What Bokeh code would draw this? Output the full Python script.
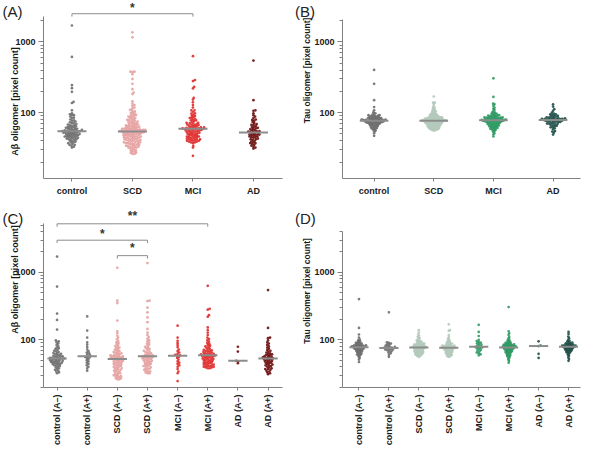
import math
import numpy as np
from bokeh.plotting import figure
from bokeh.models import Range1d, FixedTicker, NumeralTickFormatter, Label
from bokeh.layouts import column, row
from bokeh.core.properties import value
from bokeh.embed import file_html
from bokeh.resources import INLINE

# ---------------- data ----------------
main_cats = ["control", "SCD", "MCI", "AD"]
sub_cats = ["control (A\u2013)", "control (A+)", "SCD (A\u2013)", "SCD (A+)",
            "MCI (A\u2013)", "MCI (A+)", "AD (A\u2013)", "AD (A+)"]

ab_ctrl_neg = [1710, 615, 245, 197, 142, 98, 95, 92, 88, 84, 80, 77, 75, 73, 71, 69, 67, 66, 64, 63,
               62, 61, 60, 59, 58, 57, 57, 56, 55, 55, 54, 54, 53, 53, 52, 52, 51, 51, 50, 50,
               49, 49, 48, 48, 47, 47, 46, 46, 45, 45, 44, 44, 43, 42, 42, 41, 40, 39, 38, 37,
               36, 35, 34, 33, 32]
ab_ctrl_pos = [222, 137, 108, 92, 85, 78, 72, 68, 65, 63, 61, 59, 57, 56, 55, 54, 52, 50, 48, 46,
               44, 42, 40, 38, 35]
ab_scd_neg = [1165, 380, 350, 193, 134, 125, 115, 108, 102, 97, 93, 90, 87, 84, 81, 79, 77, 75, 73, 71,
              69, 68, 66, 65, 64, 63, 62, 61, 60, 59, 58, 58, 57, 57, 56, 56, 55, 55, 54, 54,
              53, 53, 52, 52, 51, 50, 50, 49, 48, 48, 47, 46, 46, 45, 44, 44, 43, 42, 42, 41,
              40, 40, 39, 38, 38, 37, 36, 36, 35, 34, 34, 33, 32, 32, 31, 30, 30, 29, 29, 28,
              28, 27, 27, 26, 26]
ab_scd_pos = [1370, 380, 375, 300, 256, 215, 183, 145, 128, 118, 110, 104, 99, 95, 91, 88, 85, 82, 79, 77,
              75, 73, 71, 69, 67, 66, 65, 63, 62, 61, 60, 59, 58, 58, 57, 57, 56, 55, 55, 54,
              53, 53, 52, 51, 50, 50, 49, 48, 47, 47, 46, 45, 44, 44, 43, 42, 41, 41, 40, 39,
              38, 37, 37, 36, 35, 34, 34, 33, 32, 32]
ab_mci_neg = [162, 108, 97, 90, 84, 78, 72, 68, 65, 62, 60, 59, 58, 56, 54, 51, 48, 46, 44, 42,
              40, 37, 34, 32, 24.5]
ab_mci_pos = [630, 289, 280, 232, 220, 153, 140, 128, 118, 108, 103, 98, 94, 90, 87, 84, 82, 80, 78, 76,
              74, 72, 71, 70, 69, 68, 67, 66, 65, 64, 63, 62, 62, 61, 61, 60, 60, 59, 59, 58,
              58, 57, 57, 56, 55, 55, 54, 53, 53, 52, 51, 51, 50, 50, 49, 48, 48, 47, 46, 46,
              45, 45, 44, 43, 43, 42, 42, 41, 41, 40, 40, 39, 39, 38, 38]
ab_ad_neg = [79, 67, 49, 48, 45]
ab_ad_pos = [545, 150, 108, 106, 98, 92, 88, 84, 80, 77, 74, 71, 69, 67, 65, 63, 62, 61, 60, 59,
             58, 57, 56, 55, 55, 54, 54, 53, 52, 52, 51, 50, 49, 49, 48, 47, 46, 46, 45, 44,
             43, 42, 42, 41, 40, 39, 38, 37, 37, 36, 35, 34, 33, 32, 31]

tau_ctrl_neg = [402, 150, 120, 108, 101, 98, 96, 94, 92, 91, 90, 89, 88, 87, 86, 85, 84, 84, 83, 83,
                82, 82, 81, 81, 80, 80, 80, 79, 79, 79, 78, 78, 78, 77, 77, 76, 76, 75, 75, 74,
                74, 73, 73, 72, 72, 71, 70, 70, 69, 68, 67, 67, 66, 65, 64, 63, 62, 61, 60, 59,
                58, 56, 54, 51, 47]
tau_ctrl_pos = [256, 92, 90, 88, 86, 84, 82, 80, 79, 78, 77, 77, 76, 75, 74, 73, 72, 71, 70, 69,
                67, 65, 63, 60, 56]
tau_scd_neg = [139, 128, 120, 115, 111, 108, 105, 102, 100, 98, 96, 95, 94, 93, 92, 91, 90, 89, 88, 88,
               87, 86, 86, 85, 85, 84, 84, 83, 83, 82, 82, 81, 81, 80, 80, 80, 79, 79, 79, 78,
               78, 78, 77, 77, 77, 76, 76, 76, 75, 75, 74, 74, 73, 73, 72, 72, 71, 71, 70, 70,
               69, 69, 68, 68, 67, 67, 66, 66, 65, 65, 64, 64, 63, 63, 62, 62, 61, 61, 60, 60,
               59, 58, 58, 57, 56]
tau_scd_pos = [169, 139, 136, 118, 110, 105, 101, 98, 96, 94, 92, 90, 89, 88, 87, 86, 85, 84, 83, 83,
               82, 82, 81, 81, 80, 80, 79, 79, 78, 78, 78, 77, 77, 77, 77, 76, 76, 76, 75, 75,
               74, 74, 73, 73, 72, 72, 71, 71, 70, 70, 69, 68, 68, 67, 66, 66, 65, 64, 64, 63,
               62, 62, 61, 60, 60, 59, 58, 57, 57, 56]
tau_mci_neg = [167, 131, 114, 100, 96, 93, 91, 89, 87, 85, 83, 81, 79, 78, 77, 76, 75, 73, 71, 69,
               67, 65, 63, 61, 59]
tau_mci_pos = [306, 134, 125, 118, 110, 105, 101, 98, 96, 94, 92, 91, 90, 89, 88, 87, 86, 86, 85, 85,
               84, 84, 83, 83, 82, 82, 81, 81, 80, 80, 80, 79, 79, 79, 78, 78, 78, 77, 77, 77,
               76, 76, 75, 75, 74, 74, 73, 73, 72, 72, 71, 70, 70, 69, 68, 68, 67, 66, 66, 65,
               64, 64, 63, 62, 61, 60, 59, 58, 57, 56, 55, 53, 51, 49, 46]
tau_ad_neg = [95, 82, 81, 62, 54]
tau_ad_pos = [131, 122, 112, 106, 100, 97, 95, 93, 91, 90, 89, 88, 87, 86, 85, 84, 84, 83, 83, 82,
              82, 81, 81, 80, 80, 79, 79, 79, 78, 78, 77, 77, 76, 76, 75, 75, 74, 73, 73, 72,
              71, 70, 70, 69, 68, 67, 66, 65, 64, 62, 60, 58, 55, 52, 49]

ab_sub = [ab_ctrl_neg, ab_ctrl_pos, ab_scd_neg, ab_scd_pos, ab_mci_neg, ab_mci_pos, ab_ad_neg, ab_ad_pos]
tau_sub = [tau_ctrl_neg, tau_ctrl_pos, tau_scd_neg, tau_scd_pos, tau_mci_neg, tau_mci_pos, tau_ad_neg, tau_ad_pos]
ab_main = [ab_sub[2 * k] + ab_sub[2 * k + 1] for k in range(4)]
tau_main = [tau_sub[2 * k] + tau_sub[2 * k + 1] for k in range(4)]

# significance comparisons: (group i, group j, label)
sig_A = [(0, 2, "*")]
sig_C = [(0, 5, "**"), (0, 3, "*"), (2, 3, "*")]

y_major = [10, 100, 1000, 10000]
y_minor = [20, 30, 40, 50, 60, 70, 80, 90, 200, 300, 400, 500, 600, 700, 800, 900,
           2000, 3000, 4000, 5000, 6000, 7000, 8000, 9000]

# ---------------- style ----------------
FONT = "Liberation Sans"
AX = "#808080"
ab_colors = ["#6e6e6e", "#e6a0a0", "#e02a2a", "#6b0d0d"]
tau_colors = ["#6e6e6e", "#b4cabb", "#2e9a62", "#1f4f47"]


def swarm_offsets(vals, ppd, ppu, cap, d=1.9, step=0.4):
    """Beeswarm placement in pixel space, squeezed to at most +-cap px."""
    y = np.log10(np.asarray(vals, float)) * ppd
    order = np.argsort(y)
    px = np.zeros(len(y))
    pxs, pys = [], []
    for i in order:
        yi = y[i]
        near = [(a, b) for a, b in zip(pxs, pys) if abs(b - yi) < d]
        k = 0
        while True:
            m = (k + 1) // 2
            cand = m * step * (1 if k % 2 else -1)
            if all((cand - a) ** 2 + (yi - b) ** 2 >= d * d for a, b in near):
                break
            k += 1
        px[i] = cand
        pxs.append(cand)
        pys.append(yi)
    mx = np.max(np.abs(px)) if len(px) else 0
    if mx > cap:
        px = px * cap / mx
    return px / ppu


def make_panel(W, H, box, xr, yr, ybounds, groups, colors, cats, rotate, med_half, cap,
               panel_text, panel_pos, ylab_text, ylab_pos, ylab_size, brackets):
    left, right, top, bottom = box
    ppu = (right - left) / (xr[1] - xr[0])
    la, lb = math.log10(yr[0]), math.log10(yr[1])
    ppd = (bottom - top) / (lb - la)
    xs = xr[0] - left / ppu
    xe = xr[1] + (W - right) / ppu
    ys = 10 ** (la - (H - bottom) / ppd)
    ye = 10 ** (lb + top / ppd)

    p = figure(width=W, height=H, y_axis_type="log",
               x_range=Range1d(xs, xe), y_range=Range1d(ys, ye),
               output_backend="svg", toolbar_location=None, title=None,
               min_border=0, min_border_left=0, min_border_right=0,
               min_border_top=0, min_border_bottom=0)
    p.outline_line_color = None
    p.grid.visible = False
    p.background_fill_color = "white"
    p.border_fill_color = "white"

    for i, vals in enumerate(groups):
        off = swarm_offsets(vals, ppd, ppu, cap)
        p.scatter(i + off, vals, size=2.7, marker="circle", fill_color=colors[i],
                  line_color=None, fill_alpha=0.9)
    for i, vals in enumerate(groups):
        med = float(np.median(vals))
        p.segment(i - med_half, med, i + med_half, med, line_color="#8c8c8c", line_width=2)

    for (i, j, txt, ytop, yend, ytxt) in brackets:
        p.line([i, i, j, j], [yend, ytop, ytop, yend], line_color="#8c8c8c", line_width=1)
        p.text(x=[(i + j) / 2], y=[ytxt], text=[txt], text_align="center",
               text_baseline="middle", text_font=value(FONT), text_font_size="12px",
               text_font_style="bold", text_color="#333333")

    ya = p.yaxis[0]
    ya.fixed_location = xr[0]
    ya.ticker = FixedTicker(ticks=[t for t in y_major if ybounds[0] <= t <= ybounds[1]],
                            minor_ticks=[t for t in y_minor if ybounds[0] <= t <= ybounds[1]])
    ya.formatter = NumeralTickFormatter(format="0")
    ya.bounds = ybounds
    ya.axis_line_color = AX
    ya.major_tick_line_color = AX
    ya.minor_tick_line_color = AX
    ya.major_tick_out = 5
    ya.major_tick_in = 0
    ya.minor_tick_out = 3
    ya.minor_tick_in = 0
    ya.major_label_standoff = 3
    ya.major_label_text_font = FONT
    ya.major_label_text_font_style = "bold"
    ya.major_label_text_font_size = "9px"
    ya.major_label_text_color = "#1a1a1a"

    xa = p.xaxis[0]
    xa.fixed_location = yr[0]
    xa.ticker = FixedTicker(ticks=list(range(len(cats))))
    xa.major_label_overrides = {i: c for i, c in enumerate(cats)}
    xa.bounds = xr
    xa.axis_line_color = AX
    xa.major_tick_line_color = AX
    xa.major_tick_out = 3
    xa.major_tick_in = 0
    xa.minor_tick_line_color = None
    xa.major_label_standoff = 4
    xa.major_label_text_font = FONT
    xa.major_label_text_font_style = "bold"
    xa.major_label_text_font_size = "9px"
    xa.major_label_text_color = "#1a1a1a"
    if rotate:
        xa.major_label_orientation = math.pi / 2

    p.add_layout(Label(x=panel_pos[0], y=H - panel_pos[1], x_units="screen", y_units="screen",
                       text=panel_text, text_font=FONT, text_font_size="15px",
                       text_align="left", text_baseline="top", text_color="#222222"))
    p.add_layout(Label(x=ylab_pos[0], y=H - ylab_pos[1], x_units="screen", y_units="screen",
                       text=ylab_text, angle=math.pi / 2, text_font=FONT,
                       text_font_size=ylab_size, text_font_style="bold",
                       text_align="center", text_baseline="middle", text_color="#1a1a1a"))
    return p


def brackets_for(sig, levels):
    return [(i, j, t, lv[0], lv[1], lv[2]) for (i, j, t), lv in zip(sig, levels)]


pA = make_panel(292, 204, (43, 282, 0, 178), (-0.47, 3.48), (11.7, 3865), (11.7, 2300),
                ab_main, ab_colors, main_cats, False, 0.24, 14,
                "(A)", (2, 2), "A\u03b2 oligomer [pixel count]", (14.6, 101), "9px",
                brackets_for(sig_A, [(2510, 2290, 3030)]))
pB = make_panel(300, 204, (50, 288, 0, 178), (-0.53, 3.46), (11.7, 3865), (11.7, 2100),
                tau_main, tau_colors, main_cats, False, 0.24, 12.5,
                "(B)", (2.5, 2), "Tau oligomer [pixel count]", (14.2, 70), "8.5px", [])
pC = make_panel(292, 244, (43, 282, 0, 183), (-0.45, 7.48), (19.7, 10100), (19.7, 5230),
                ab_sub, [ab_colors[k // 2] for k in range(8)], sub_cats, True, 0.32, 7.5,
                "(C)", (2, 5.7), "A\u03b2 oligomer [pixel count]", (14.6, 75), "9px",
                brackets_for(sig_C, [(5230, 4740, 6800), (2990, 2710, 3640), (1766, 1600, 2300)]))
pD = make_panel(300, 244, (50, 288, 0, 183), (-0.55, 7.4), (19.7, 10100), (19.7, 4000),
                tau_sub, [tau_colors[k // 2] for k in range(8)], sub_cats, True, 0.32, 7,
                "(D)", (2.5, 5.7), "Tau oligomer [pixel count]", (14.2, 86.5), "8.5px", [])

layout = column(row(pA, pB), row(pC, pD))
open("out.html", "w").write(file_html(layout, INLINE))
